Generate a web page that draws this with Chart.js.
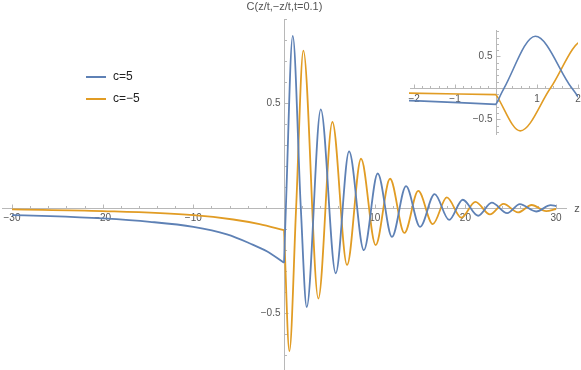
<!DOCTYPE html>
<html>
<head>
<meta charset="utf-8">
<script src="https://cdn.jsdelivr.net/npm/chart.js@4/dist/chart.umd.min.js"></script>
<style>
  body { margin: 0; background: #fff; }
  #wrap { position: relative; width: 581px; height: 370px; }
  #main { position: absolute; left: 0; top: 0; }
  #inset { position: absolute; left: 405px; top: 25px; }
</style>
</head>
<body>
<div id="wrap">
  <canvas id="main" width="581" height="370"></canvas>
  <canvas id="inset" width="176" height="115"></canvas>
</div>
<script>
// values: z<0 and z>0 kept apart so the corner at z=0 stays
const blueNegZ = [-30, -25.8, -20, -14.8, -10, -6.3, -3.75, -1.9, 0];
const blueNegC = [-0.033, -0.038, -0.049, -0.065, -0.089, -0.125, -0.168, -0.205, -0.26];
const bluePosZ = [0, 0.2, 0.96, 1.85, 2.5, 4.05, 5.7, 7.17, 8.8, 10.33, 11.9, 13.45, 15.0, 16.6, 18.2, 19.7, 21.4, 22.9, 24.6, 26.0, 27.8, 29.4, 30];
const bluePosC = [-0.26, 0, 0.82, 0, -0.47, 0.47, -0.31, 0.27, -0.2, 0.165, -0.137, 0.105, -0.089, 0.067, -0.056, 0.04, -0.036, 0.026, -0.024, 0.019, -0.016, 0.014, 0.01];

const orangeNegZ = [-30, -20, -10, -5.6, -2.7, 0];
const orangeNegC = [-0.006, -0.014, -0.033, -0.054, -0.076, -0.105];
const orangePosZ = [0, 0.59, 1.33, 2.13, 3.78, 5.33, 6.95, 8.49, 10.1, 11.69, 13.27, 14.8, 16.4, 17.95, 19.55, 21.1, 22.7, 24.2, 25.8, 27.3, 28.9, 30];
const orangePosC = [-0.105, -0.68, 0, 0.75, -0.43, 0.41, -0.27, 0.235, -0.176, 0.14, -0.118, 0.082, -0.076, 0.051, -0.045, 0.03, -0.03, 0.02, -0.02, 0.015, -0.014, -0.004];

const seriesLabels = ['c=5', 'c=\u22125'];
const axisTitle = 'C(z/t,\u2212z/t,t=0.1)';
const mainXTicks = [-30, -20, -10, 10, 20, 30];
const mainYTicks = [-0.5, 0.5];
const insetXTicks = [-2, -1, 1, 2];
const insetYTicks = [-0.5, 0.5];

const BLUE = '#5e81b5';
const ORANGE = '#e19c24';
const FONT = '"Liberation Sans", Arial, sans-serif';

const pts = (zs, cs) => zs.map((z, i) => ({ x: z, y: cs[i] }));
const fmt = v => (v < 0 ? '\u2212' : '') + Math.abs(v);

function datasets(width, clip) {
    const base = { pointRadius: 0, borderWidth: width, cubicInterpolationMode: 'monotone', fill: false, clip: clip };
    return [
        { ...base, label: seriesLabels[0], data: pts(blueNegZ, blueNegC), borderColor: BLUE },
        { ...base, label: seriesLabels[0], data: pts(bluePosZ, bluePosC), borderColor: BLUE },
        { ...base, label: seriesLabels[1], data: pts(orangeNegZ, orangeNegC), borderColor: ORANGE },
        { ...base, label: seriesLabels[1], data: pts(orangePosZ, orangePosC), borderColor: ORANGE }
    ];
}

// Mathematica-style axes through the origin
function axesPlugin(cfg) {
    return {
        id: 'axes',
        beforeDatasetsDraw(chart) {
            const { ctx, chartArea: a, scales: { x, y } } = chart;
            const x0 = Math.round(x.getPixelForValue(0)) + 0.5;
            const y0 = Math.round(y.getPixelForValue(0)) + 0.5;
            ctx.save();
            ctx.strokeStyle = '#b8b8b8';
            ctx.lineWidth = 1;
            ctx.beginPath();
            ctx.moveTo(a.left, y0); ctx.lineTo(a.right, y0);
            ctx.moveTo(x0, a.top); ctx.lineTo(x0, a.bottom);

            for (let i = Math.ceil(x.min / cfg.xStep); i <= Math.floor(x.max / cfg.xStep); i++) {
                const v = i * cfg.xStep;
                if (Math.abs(v) < 1e-9) continue;
                const major = cfg.xTicks.some(t => Math.abs(t - v) < 1e-9);
                const px = Math.round(x.getPixelForValue(v)) + 0.5;
                ctx.moveTo(px, y0); ctx.lineTo(px, y0 - (major ? 4 : 2.5));
            }
            for (let i = Math.ceil(y.min / cfg.yStep); i <= Math.floor(y.max / cfg.yStep); i++) {
                const v = i * cfg.yStep;
                if (Math.abs(v) < 1e-9) continue;
                const major = cfg.yTicks.some(t => Math.abs(t - v) < 1e-9);
                const py = Math.round(y.getPixelForValue(v)) + 0.5;
                ctx.moveTo(x0, py); ctx.lineTo(x0 + (major ? 4 : 2.5), py);
            }
            ctx.stroke();

            ctx.fillStyle = '#555';
            ctx.font = cfg.fontSize + 'px ' + FONT;
            ctx.textBaseline = 'middle';
            ctx.textAlign = 'center';
            cfg.xTicks.forEach(v => ctx.fillText(fmt(v), x.getPixelForValue(v), y0 + cfg.xLabelGap));
            ctx.textAlign = 'right';
            cfg.yTicks.forEach(v => ctx.fillText(fmt(v), x0 - 4, y.getPixelForValue(v)));

            if (cfg.title) {
                ctx.font = '11px ' + FONT;
                ctx.textAlign = 'center';
                ctx.fillText(cfg.title, x0, a.top - 12);
                ctx.fillText('z', a.right + 10, y0);
            }
            ctx.restore();
        }
    };
}

const legendPlugin = {
    id: 'legendInside',
    afterDraw(chart) {
        const ctx = chart.ctx;
        ctx.save();
        ctx.font = '12px ' + FONT;
        ctx.textBaseline = 'middle';
        ctx.textAlign = 'left';
        ctx.lineWidth = 2;
        [[BLUE, 77], [ORANGE, 99]].forEach(([col, yy], i) => {
            ctx.strokeStyle = col;
            ctx.beginPath();
            ctx.moveTo(86, yy); ctx.lineTo(106, yy);
            ctx.stroke();
            ctx.fillStyle = '#222';
            ctx.fillText(seriesLabels[i], 113, yy);
        });
        ctx.restore();
    }
};

function makeChart(id, width, clip, range, padding, cfg, extra) {
    return new Chart(document.getElementById(id).getContext('2d'), {
        type: 'line',
        data: { datasets: datasets(width, clip) },
        options: {
            responsive: false,
            animation: false,
            devicePixelRatio: 1,
            layout: { padding: padding },
            plugins: { legend: { display: false }, tooltip: { enabled: false } },
            scales: {
                x: { type: 'linear', display: false, min: range[0], max: range[1] },
                y: { type: 'linear', display: false, min: range[2], max: range[3] }
            }
        },
        plugins: [axesPlugin(cfg)].concat(extra)
    });
}

makeChart('main', 1.8, 1, [-31.1, 31.2, -0.77, 0.9],
    { left: 2, right: 14, top: 19, bottom: 0 },
    { xStep: 2, yStep: 0.1, xTicks: mainXTicks, yTicks: mainYTicks, fontSize: 10, xLabelGap: 10, title: axisTitle },
    [legendPlugin]);

// inset curves stop at z=2 while its axis runs a little further
makeChart('inset', 1.6, { left: 1, right: -2, top: 1, bottom: 1 }, [-2.1, 2.05, -0.746, 0.92],
    { left: 5, right: 1, top: 5, bottom: 5 },
    { xStep: 0.2, yStep: 0.1, xTicks: insetXTicks, yTicks: insetYTicks, fontSize: 10, xLabelGap: 10.5 },
    []);
</script>
</body>
</html>
